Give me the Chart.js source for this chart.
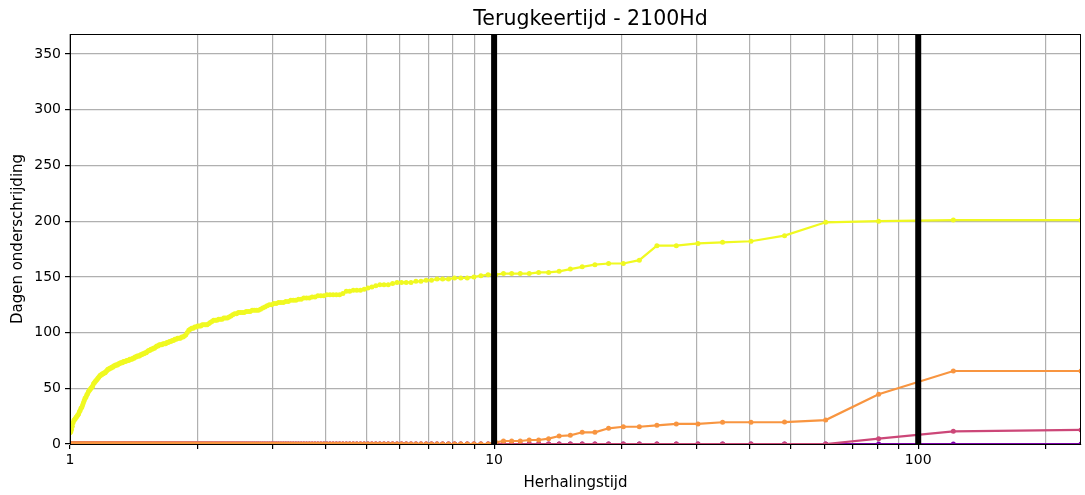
<!DOCTYPE html>
<html>
<head>
<meta charset="utf-8">
<script src="https://cdn.jsdelivr.net/npm/chart.js@4/dist/chart.umd.min.js"></script>
<style>
  html, body { margin: 0; padding: 0; background: #fff; }
  canvas { display: block; }
</style>
</head>
<body>
<canvas id="chart" width="1085" height="495"></canvas>
<script>
// ---- data ----
// rank 1 = wettest year; herhalingstijd = nYears / rank
const nYears = 242;

const yellowDays = [
  201,201,200,199,187,182,181,180,178,178,
  165,162,162,161,159,157,155,154,154,153,
  153,153,153,152,152,151,150,149,149,149,
  148,148,148,147,147,146,146,145,145,145,
  145,144,143,143,143,142,141,140,139,138,
  138,138,137,137,135,134,134,134,134,134,
  133,133,133,132,132,131,131,131,130,130,
  129,129,129,128,128,127,127,127,126,126,
  125,125,124,123,122,121,120,120,120,120,
  119,119,119,118,118,118,118,117,117,116,
  115,114,113,113,113,112,112,112,111,111,
  111,110,109,108,107,107,107,107,106,106,
  106,105,105,104,104,103,102,100,98,97,
  96,96,95,95,95,94,94,93,93,92,
  92,91,91,90,90,90,89,89,89,88,
  88,87,86,86,85,85,84,84,83,82,
  82,81,81,80,80,79,79,79,78,78,
  77,77,76,76,76,75,75,75,74,74,
  74,73,73,73,72,72,71,71,71,70,
  70,69,69,68,68,67,67,66,65,64,
  64,63,63,62,62,61,60,59,58,57,
  56,55,54,52,51,50,49,48,47,45,
  44,42,41,39,37,35,33,32,30,29,
  27,26,25,24,23,22,21,19,16,13,
  11,10
];
// only the first ranks are non-zero for the other thresholds
const orangeHead = [65.5,65.5,44.6,21.5,19.7,19.5,19.5,18,18,16.8,15.5,15.5,14.1,10.5,10.5,7.8,7.2,4.8,3.6,3.6,2.7,2.7,2.7,1.5];
const pinkHead = [12.6,11.4,4.8];
const purpleHead = [];

const xGridValues = [1,2,3,4,5,6,7,8,9,10,20,30,40,50,60,70,80,90,100,200];
const xLabelValues = [1,10,100];
const yTickValues = [0,50,100,150,200,250,300,350];
const markerPeriods = [10,100];

const titleText = "Terugkeertijd - 2100Hd";
const xTitle = "Herhalingstijd";
const yTitle = "Dagen onderschrijding";

// ---- helpers ----
function padZeros(head){
  const out = head.slice();
  while(out.length < nYears) out.push(0);
  return out;
}

function toPoints(values){
  return values.map((v, i) => ({ x: nYears / (i + 1), y: v }));
}

function series(label, values, color, order){
  return {
    label,
    data: toPoints(values),
    borderColor: color,
    backgroundColor: color,
    borderWidth: 2.2,
    pointRadius: 2.5,
    pointBorderWidth: 0,
    pointHoverRadius: 2.5,
    tension: 0,
    order
  };
}

const FONT = "'DejaVu Sans', sans-serif";

const decorPlugin = {
  id: "decor",
  afterDatasetsDraw(chart){
    const { ctx, chartArea: a, scales } = chart;
    ctx.save();
    // thick reference lines
    ctx.strokeStyle = "#000";
    ctx.lineWidth = 6;
    markerPeriods.forEach(p => {
      const px = scales.x.getPixelForValue(p);
      ctx.beginPath();
      ctx.moveTo(px, a.top);
      ctx.lineTo(px, a.bottom);
      ctx.stroke();
    });
    // frame (all four spines)
    ctx.lineWidth = 1;
    ctx.strokeRect(a.left + 0.5, a.top + 0.5, a.right - a.left - 1, a.bottom - a.top);
    ctx.restore();
  },
  afterDraw(chart){
    const { ctx, chartArea: a } = chart;
    const cx = (a.left + a.right) / 2;
    ctx.save();
    ctx.fillStyle = "#000";
    ctx.textAlign = "center";
    ctx.textBaseline = "middle";
    ctx.font = "20.5px " + FONT;
    ctx.fillText(titleText, cx + 15, 20);
    ctx.font = "15px " + FONT;
    ctx.fillText(xTitle, cx, 483);
    ctx.translate(18, (a.top + a.bottom) / 2);
    ctx.rotate(-Math.PI / 2);
    ctx.fillText(yTitle, 0, 0);
    ctx.restore();
  }
};

new Chart(document.getElementById("chart").getContext("2d"), {
  type: "line",
  data: {
    datasets: [
      series("Drempel 1", yellowDays, "#f0f921", 0),
      series("Drempel 2", padZeros(orangeHead), "#f89540", 1),
      series("Drempel 3", padZeros(pinkHead), "#cc4778", 2),
      series("Drempel 4", padZeros(purpleHead), "#7e03a8", 3)
    ]
  },
  options: {
    responsive: false,
    animation: false,
    devicePixelRatio: 1,
    layout: { padding: { top: 34, right: 4, left: 0, bottom: 0 } },
    plugins: {
      legend: { display: false },
      tooltip: { enabled: false },
      title: { display: false }
    },
    scales: {
      x: {
        type: "logarithmic",
        min: 1,
        max: nYears,
        afterBuildTicks(scale){
          scale.ticks = xGridValues.map(v => ({ value: v, major: xLabelValues.includes(v) }));
        },
        afterFit(scale){ scale.height = 51; },
        ticks: {
          autoSkip: false,
          maxRotation: 0,
          padding: 3,
          color: "#000",
          font: { family: FONT, size: 14 },
          callback(v){ return xLabelValues.includes(v) ? String(v) : ""; }
        },
        grid: { color: "#b0b0b0", lineWidth: 1.2, tickLength: 5, tickColor: "#000" },
        border: { color: "#000", width: 1 }
      },
      y: {
        min: 0,
        max: 368,
        afterBuildTicks(scale){
          scale.ticks = yTickValues.map(v => ({ value: v }));
        },
        afterFit(scale){ scale.width = 70; },
        ticks: {
          padding: 4,
          color: "#000",
          font: { family: FONT, size: 14 }
        },
        grid: { color: "#b0b0b0", lineWidth: 1.2, tickLength: 5, tickColor: "#000" },
        border: { color: "#000", width: 1 }
      }
    }
  },
  plugins: [decorPlugin]
});
</script>
</body>
</html>
